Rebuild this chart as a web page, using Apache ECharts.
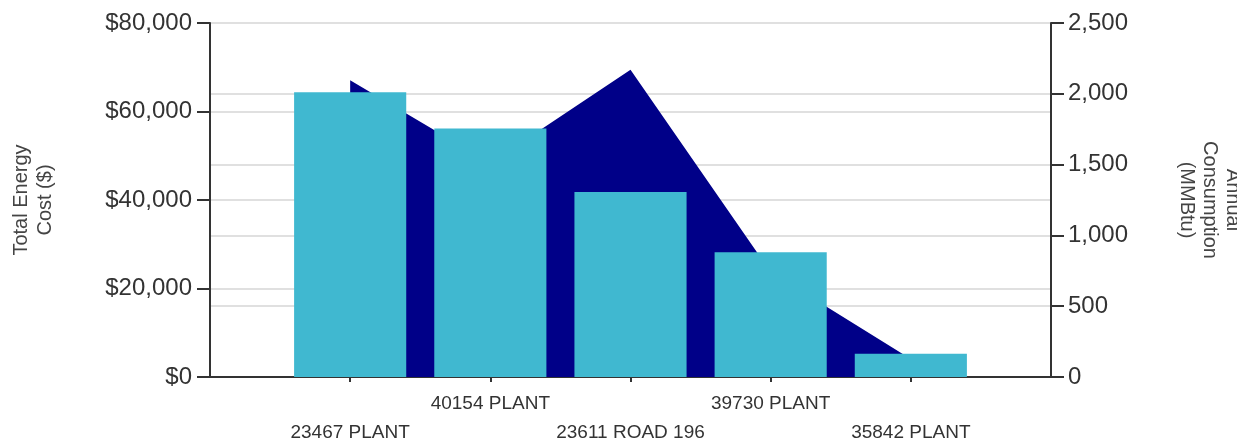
<!DOCTYPE html>
<html>
<head>
<meta charset="utf-8">
<script src="https://cdn.jsdelivr.net/npm/echarts@6/dist/echarts.min.js"></script>
<style>
html,body{margin:0;padding:0;background:#fff;overflow:hidden;}
#chart{width:1237px;height:443px;}
</style>
</head>
<body>
<div id="chart"></div>
<script>
// Categories (empty slots at both ends give the padding seen in the reference)
var categories = ['', '23467 PLANT', '40154 PLANT', '23611 ROAD 196', '39730 PLANT', '35842 PLANT', ''];
// Total Energy Cost ($) - bars, left axis
var costValues = [null, 64350, 56160, 41800, 28190, 5260, null];
// Annual Consumption (MMBtu) - area, right axis
var consumptionValues = [null, 2095, 1510, 2169, 742, 127, null];

var costTicks = { min: 0, max: 80000, interval: 20000 };
var consTicks = { min: 0, max: 2500, interval: 500 };

var FONT = "'Liberation Sans', Arial, sans-serif";
var chart = echarts.init(document.getElementById('chart'), null, { renderer: 'canvas' });

function fmtThousands(v) {
  return String(v).replace(/\B(?=(\d{3})+(?!\d))/g, ',');
}

chart.setOption({
  animation: false,
  backgroundColor: '#fff',
  grid: { left: 210, right: 186, top: 23, bottom: 66, containLabel: false, outerBoundsMode: 'none' },
  xAxis: {
    type: 'category',
    data: categories,
    boundaryGap: false,
    axisLine: { show: true, lineStyle: { color: '#333', width: 2 } },
    axisTick: {
      show: true, length: 5, alignWithLabel: true,
      interval: function (i, v) { return v !== ''; },
      lineStyle: { color: '#333', width: 2 }
    },
    axisLabel: {
      interval: 0,
      margin: 12,
      color: '#333',
      fontFamily: FONT,
      fontSize: 19,
      lineHeight: 29,
      formatter: function (v, i) { return (i % 2 === 1) ? '\n' + v : v; }
    },
    splitLine: { show: false }
  },
  yAxis: [
    {
      type: 'value',
      position: 'left',
      min: costTicks.min, max: costTicks.max, interval: costTicks.interval,
      name: 'Total Energy\nCost ($)',
      nameLocation: 'middle',
      nameRotate: 90,
      nameGap: 153,
      nameTextStyle: { color: '#444', fontFamily: FONT, fontSize: 20, lineHeight: 24 },
      axisLine: { show: true, lineStyle: { color: '#333', width: 2 } },
      axisTick: { show: true, length: 13, lineStyle: { color: '#333', width: 2 } },
      axisLabel: {
        margin: 18, color: '#333', fontFamily: FONT, fontSize: 24,
        formatter: function (v) { return '$' + fmtThousands(v); }
      },
      splitLine: { show: true, lineStyle: { color: '#e0e0e0', width: 2 } }
    },
    {
      type: 'value',
      position: 'right',
      min: consTicks.min, max: consTicks.max, interval: consTicks.interval,
      name: 'Annual\nConsumption\n(MMBtu)',
      nameLocation: 'middle',
      nameRotate: -90,
      nameGap: 124,
      nameTextStyle: { color: '#444', fontFamily: FONT, fontSize: 20, lineHeight: 23 },
      axisLine: { show: true, lineStyle: { color: '#333', width: 2 } },
      axisTick: { show: true, length: 13, lineStyle: { color: '#333', width: 2 } },
      axisLabel: {
        margin: 17, color: '#333', fontFamily: FONT, fontSize: 24,
        formatter: function (v) { return fmtThousands(v); }
      },
      splitLine: { show: true, lineStyle: { color: '#e0e0e0', width: 2 } }
    }
  ],
  series: [
    {
      name: 'Annual Consumption (MMBtu)',
      type: 'line',
      yAxisIndex: 1,
      data: consumptionValues,
      symbol: 'none',
      connectNulls: false,
      lineStyle: { width: 0, color: '#000088' },
      itemStyle: { color: '#000088' },
      areaStyle: { color: '#000088', opacity: 1 },
      z: 2
    },
    {
      name: 'Total Energy Cost ($)',
      type: 'bar',
      yAxisIndex: 0,
      data: costValues,
      barWidth: '80%',
      itemStyle: { color: '#40B8D0' },
      z: 3
    }
  ]
});
</script>
</body>
</html>
